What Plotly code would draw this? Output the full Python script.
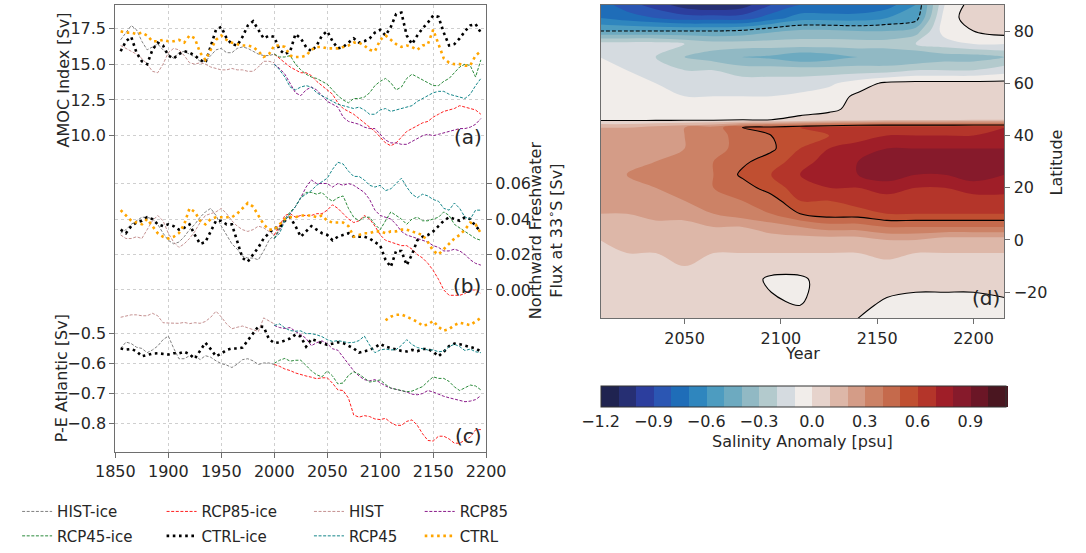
import plotly.graph_objects as go

W, H = 1086, 553

# ---------------- time axes ----------------
yrs_full = list(range(1855, 2200, 5))      # control runs
yrs_hist = list(range(1855, 2005, 5))      # historical runs
yrs_rcp = list(range(2000, 2200, 5))       # scenario runs
yrs_ctrl_pe = list(range(2105, 2200, 5))   # CTRL P-E record

# ---------------- (a) AMOC index [Sv] ----------------
amoc_hist_ice = [16.7, 17.2, 17.7, 17.4, 16.6, 16.0, 16.2, 16.4, 16.0, 15.7,
                 15.4, 15.8, 15.9, 15.7, 15.5, 15.2, 15.2, 15.6, 16.0, 16.1,
                 15.8, 15.8, 16.1, 16.2, 16.1, 15.9, 15.7, 15.6, 15.6, 15.7]
amoc_hist = [16.3, 16.1, 15.9, 15.7, 15.4, 15.0, 14.5, 14.4, 15.0, 15.8,
             16.1, 16.0, 15.6, 15.1, 15.0, 15.1, 15.0, 14.8, 14.7, 14.6,
             14.6, 14.7, 14.6, 14.6, 14.5, 14.5, 14.8, 15.2, 15.2, 15.1]
amoc_rcp85_ice = [15.7, 15.4, 15.1, 14.8, 14.6, 14.4, 14.4, 14.2, 13.8, 13.5,
                  13.2, 12.9, 12.3, 11.9, 11.7, 11.5, 11.2, 10.9, 10.6, 10.3,
                  9.9, 9.5, 9.3, 9.5, 9.9, 10.3, 10.5, 10.7, 10.9, 11.0,
                  11.3, 11.5, 11.7, 11.8, 11.9, 12.1, 12.0, 11.9, 11.8, 11.5]
amoc_rcp85 = [15.0, 14.7, 14.3, 13.7, 13.0, 12.8, 13.2, 13.4, 13.2, 12.8,
              12.4, 12.2, 12.0, 11.3, 11.0, 10.9, 10.8, 10.6, 10.5, 10.5,
              10.1, 9.7, 9.5, 9.5, 9.4, 9.4, 9.6, 9.8, 10.0, 10.1,
              10.0, 10.1, 10.2, 10.3, 10.4, 10.5, 10.5, 10.6, 10.8, 11.2]
amoc_rcp45_ice = [15.7, 15.5, 15.5, 15.6, 15.0, 14.6, 14.3, 14.1, 14.0, 13.8,
                  13.6, 13.2, 12.8, 12.5, 12.3, 12.6, 12.6, 12.7, 13.0, 13.5,
                  13.8, 14.0, 13.7, 13.2, 13.4, 14.0, 14.3, 14.1, 13.9, 13.7,
                  13.5, 13.5, 13.8, 14.0, 14.4, 14.8, 15.0, 14.9, 14.1, 15.3]
amoc_rcp45 = [15.0, 14.6, 14.1, 13.4, 13.2, 13.4, 13.5, 13.4, 13.0, 12.8,
              12.6, 12.4, 12.2, 12.1, 12.0, 11.9, 12.0, 11.8, 11.5, 11.5,
              11.8, 11.9, 11.7, 11.8, 11.9, 12.0, 12.1, 12.4, 12.6, 12.8,
              13.0, 13.1, 13.1, 12.9, 12.8, 12.7, 12.6, 12.9, 13.5, 14.0]
amoc_ctrl_ice = [15.9, 16.6, 16.9, 15.8, 15.2, 15.0, 16.0, 16.5, 16.3, 15.6,
                 15.4, 15.7, 15.9, 15.8, 15.6, 15.3, 15.1, 16.2, 17.4, 17.6,
                 16.8, 16.4, 16.3, 16.9, 17.7, 18.0, 17.4, 16.8, 17.0, 16.9,
                 16.0, 15.7, 15.9, 17.1, 16.8, 16.2, 15.9, 16.3, 17.0, 17.3,
                 16.6, 16.1, 16.2, 16.5, 16.8, 16.5, 16.6, 16.8, 17.2, 17.4,
                 17.0, 17.6, 18.5, 18.6, 17.0, 16.4, 17.0, 17.5, 17.9, 18.4,
                 18.3, 17.2, 16.3, 16.4, 16.8, 17.3, 17.7, 17.8, 17.2]
amoc_ctrl = [17.3, 17.2, 17.2, 17.1, 17.2, 17.0, 16.6, 16.6, 16.7, 16.6,
             16.6, 16.7, 16.5, 17.0, 16.8, 15.8, 15.3, 16.0, 16.7, 17.0,
             16.7, 16.5, 16.4, 16.3, 16.3, 16.2, 15.9, 15.5, 15.7, 16.3,
             16.3, 16.2, 15.6, 15.5, 15.5, 15.6, 16.0, 16.2, 16.2, 16.1,
             16.1, 16.1, 16.2, 16.3, 16.5, 16.5, 16.3, 16.0, 15.9, 16.7,
             17.0, 16.7, 16.4, 16.2, 16.3, 16.2, 16.0, 16.3, 16.4, 17.4,
             16.4, 15.4, 15.1, 15.0, 15.0, 14.9, 14.9, 15.6, 15.9]

# ---------------- (b) northward freshwater flux at 33S [Sv] ----------------
fw_hist_ice = [0.032, 0.034, 0.037, 0.039, 0.041, 0.041, 0.040, 0.037, 0.032, 0.028,
               0.026, 0.027, 0.030, 0.034, 0.037, 0.041, 0.044, 0.046, 0.042, 0.036,
               0.031, 0.026, 0.023, 0.019, 0.018, 0.018, 0.017, 0.022, 0.028, 0.031]
fw_hist = [0.031, 0.029, 0.029, 0.030, 0.029, 0.034, 0.039, 0.042, 0.039, 0.032,
           0.027, 0.024, 0.026, 0.029, 0.033, 0.038, 0.042, 0.043, 0.044, 0.046,
           0.043, 0.039, 0.036, 0.034, 0.033, 0.034, 0.036, 0.035, 0.033, 0.031]
fw_rcp85_ice = [0.031, 0.036, 0.042, 0.043, 0.041, 0.042, 0.042, 0.042, 0.043, 0.043,
                0.045, 0.048, 0.046, 0.043, 0.040, 0.038, 0.039, 0.042, 0.040, 0.036,
                0.031, 0.028, 0.027, 0.026, 0.025, 0.025, 0.023, 0.020, 0.018, 0.015,
                0.011, 0.006, 0.000, -0.003, -0.003, -0.003, -0.002, 0.000, 0.000, -0.002]
fw_rcp85 = [0.029, 0.034, 0.039, 0.043, 0.047, 0.052, 0.058, 0.062, 0.060, 0.060,
            0.060, 0.058, 0.060, 0.059, 0.060, 0.059, 0.057, 0.055, 0.051, 0.045,
            0.042, 0.041, 0.040, 0.037, 0.033, 0.031, 0.030, 0.029, 0.028, 0.027,
            0.025, 0.024, 0.022, 0.022, 0.023, 0.022, 0.020, 0.017, 0.015, 0.014]
fw_rcp45_ice = [0.029, 0.035, 0.040, 0.044, 0.047, 0.052, 0.055, 0.055, 0.054, 0.055,
                0.052, 0.050, 0.052, 0.053, 0.046, 0.041, 0.039, 0.041, 0.041, 0.037,
                0.034, 0.039, 0.044, 0.042, 0.040, 0.037, 0.040, 0.041, 0.039, 0.039,
                0.040, 0.041, 0.044, 0.042, 0.037, 0.035, 0.033, 0.031, 0.029, 0.028]
fw_rcp45 = [0.029, 0.032, 0.039, 0.043, 0.047, 0.052, 0.054, 0.056, 0.059, 0.061,
            0.063, 0.068, 0.072, 0.071, 0.067, 0.064, 0.064, 0.062, 0.059, 0.058,
            0.059, 0.056, 0.057, 0.060, 0.063, 0.058, 0.054, 0.052, 0.054, 0.053,
            0.051, 0.050, 0.046, 0.045, 0.049, 0.046, 0.041, 0.040, 0.045, 0.045]
fw_ctrl_ice = [0.034, 0.032, 0.036, 0.038, 0.039, 0.041, 0.040, 0.037, 0.036, 0.037,
               0.036, 0.034, 0.035, 0.037, 0.031, 0.026, 0.027, 0.033, 0.039, 0.039,
               0.037, 0.037, 0.028, 0.018, 0.016, 0.020, 0.024, 0.029, 0.032, 0.035,
               0.035, 0.039, 0.041, 0.036, 0.030, 0.033, 0.036, 0.034, 0.032, 0.031,
               0.028, 0.030, 0.031, 0.032, 0.030, 0.030, 0.030, 0.029, 0.027, 0.025,
               0.017, 0.013, 0.022, 0.022, 0.014, 0.020, 0.028, 0.030, 0.031, 0.033,
               0.036, 0.039, 0.041, 0.040, 0.039, 0.041, 0.040, 0.036, 0.033]
fw_ctrl = [0.045, 0.042, 0.039, 0.038, 0.037, 0.040, 0.036, 0.032, 0.030, 0.029,
           0.030, 0.032, 0.037, 0.046, 0.044, 0.039, 0.037, 0.040, 0.041, 0.041,
           0.041, 0.041, 0.043, 0.046, 0.049, 0.047, 0.042, 0.037, 0.034, 0.034,
           0.037, 0.040, 0.041, 0.041, 0.042, 0.042, 0.042, 0.041, 0.042, 0.039,
           0.038, 0.038, 0.038, 0.036, 0.030, 0.031, 0.032, 0.032, 0.033, 0.033,
           0.032, 0.033, 0.033, 0.034, 0.034, 0.033, 0.032, 0.031, 0.027, 0.022,
           0.020, 0.023, 0.026, 0.029, 0.031, 0.034, 0.038, 0.037, 0.032]

# ---------------- (c) P-E over the Atlantic [Sv] ----------------
pe_hist_ice = [-0.551, -0.530, -0.535, -0.547, -0.551, -0.565, -0.556, -0.543, -0.522, -0.510,
               -0.550, -0.585, -0.585, -0.575, -0.574, -0.588, -0.575, -0.580, -0.592, -0.601,
               -0.606, -0.614, -0.603, -0.588, -0.585, -0.592, -0.604, -0.599, -0.599, -0.604]
pe_hist = [-0.448, -0.444, -0.440, -0.440, -0.443, -0.443, -0.435, -0.443, -0.466, -0.467,
           -0.468, -0.468, -0.465, -0.469, -0.466, -0.468, -0.462, -0.448, -0.428, -0.447,
           -0.470, -0.486, -0.481, -0.477, -0.483, -0.490, -0.495, -0.450, -0.460, -0.470]
pe_rcp85_ice = [-0.604, -0.610, -0.619, -0.624, -0.632, -0.638, -0.642, -0.646, -0.651, -0.648,
                -0.648, -0.666, -0.688, -0.690, -0.715, -0.771, -0.778, -0.773, -0.776, -0.784,
                -0.786, -0.782, -0.796, -0.805, -0.805, -0.792, -0.787, -0.805, -0.833, -0.855,
                -0.857, -0.841, -0.841, -0.850, -0.864, -0.864, -0.855, -0.844, -0.820, -0.819]
pe_rcp85 = [-0.475, -0.482, -0.485, -0.482, -0.495, -0.505, -0.518, -0.542, -0.532, -0.526,
            -0.535, -0.552, -0.557, -0.580, -0.602, -0.625, -0.642, -0.654, -0.658, -0.654,
            -0.664, -0.675, -0.682, -0.686, -0.690, -0.695, -0.702, -0.704, -0.700, -0.690,
            -0.695, -0.703, -0.709, -0.714, -0.719, -0.723, -0.727, -0.725, -0.720, -0.707]
pe_rcp45_ice = [-0.600, -0.590, -0.584, -0.593, -0.590, -0.590, -0.607, -0.625, -0.638, -0.645,
                -0.625, -0.642, -0.668, -0.665, -0.640, -0.628, -0.636, -0.650, -0.662, -0.659,
                -0.655, -0.670, -0.682, -0.686, -0.690, -0.694, -0.692, -0.684, -0.677, -0.660,
                -0.645, -0.650, -0.650, -0.660, -0.678, -0.690, -0.682, -0.672, -0.675, -0.688]
pe_rcp45 = [-0.475, -0.470, -0.483, -0.492, -0.494, -0.493, -0.502, -0.502, -0.506, -0.512,
            -0.522, -0.528, -0.525, -0.528, -0.532, -0.531, -0.525, -0.510, -0.540, -0.565,
            -0.556, -0.553, -0.556, -0.555, -0.541, -0.522, -0.538, -0.548, -0.552, -0.556,
            -0.556, -0.562, -0.560, -0.545, -0.537, -0.545, -0.558, -0.553, -0.562, -0.565]
pe_ctrl_ice = [-0.551, -0.555, -0.553, -0.560, -0.577, -0.573, -0.568, -0.567, -0.569, -0.571,
               -0.567, -0.567, -0.562, -0.570, -0.585, -0.560, -0.532, -0.553, -0.577, -0.568,
               -0.556, -0.551, -0.551, -0.548, -0.524, -0.502, -0.478, -0.480, -0.520, -0.533,
               -0.531, -0.525, -0.518, -0.505, -0.512, -0.545, -0.520, -0.526, -0.534, -0.539,
               -0.536, -0.531, -0.533, -0.543, -0.551, -0.565, -0.560, -0.556, -0.548, -0.536,
               -0.545, -0.550, -0.554, -0.559, -0.561, -0.556, -0.560, -0.553, -0.553, -0.562,
               -0.577, -0.562, -0.543, -0.535, -0.537, -0.542, -0.546, -0.551, -0.561]
pe_ctrl = [-0.458, -0.446, -0.440, -0.439, -0.446, -0.454, -0.463, -0.476, -0.472, -0.460,
           -0.480, -0.492, -0.487, -0.474, -0.466, -0.470, -0.474, -0.462, -0.450]

# ---------------- (d) zonal-mean salinity anomaly [psu] ----------------
sal_years = [2006, 2020, 2035, 2050, 2065, 2080, 2095, 2110, 2125, 2140, 2155, 2170, 2185, 2200, 2216]
sal_lats = [-30, -25, -20, -15, -10, -5, 0, 5, 10, 15, 20, 25, 30, 35, 40, 43, 46,
            50, 55, 60, 65, 70, 75, 80, 85, 90]
sal_anom = [
    [0.05, 0.08, 0.08, 0.08, 0.08, 0.05, 0.03, 0.02, 0.03, 0.00, -0.04, -0.04, -0.04, -0.04, -0.04],
    [0.05, 0.08, 0.08, 0.08, 0.08, 0.05, 0.02, 0.00, 0.05, 0.04, -0.03, -0.03, -0.03, -0.03, -0.03],
    [0.05, 0.08, 0.08, 0.08, 0.08, 0.05, 0.00, -0.02, 0.05, 0.05, 0.02, 0.00, 0.00, 0.00, 0.02],
    [0.02, 0.08, 0.08, 0.05, 0.08, 0.05, -0.02, -0.02, 0.05, 0.05, 0.05, 0.05, 0.05, 0.03, 0.05],
    [0.05, 0.08, 0.08, 0.10, 0.08, 0.05, 0.05, 0.05, 0.08, 0.08, 0.08, 0.08, 0.05, 0.05, 0.08],
    [0.08, 0.10, 0.10, 0.10, 0.10, 0.10, 0.10, 0.10, 0.10, 0.10, 0.12, 0.10, 0.10, 0.10, 0.10],
    [0.10, 0.10, 0.10, 0.10, 0.10, 0.10, 0.15, 0.15, 0.15, 0.15, 0.20, 0.20, 0.15, 0.15, 0.15],
    [0.15, 0.15, 0.15, 0.15, 0.20, 0.20, 0.25, 0.30, 0.35, 0.35, 0.40, 0.40, 0.40, 0.40, 0.40],
    [0.20, 0.20, 0.25, 0.25, 0.30, 0.35, 0.40, 0.50, 0.55, 0.55, 0.60, 0.60, 0.60, 0.60, 0.60],
    [0.25, 0.25, 0.30, 0.30, 0.35, 0.40, 0.45, 0.60, 0.60, 0.65, 0.65, 0.65, 0.65, 0.65, 0.65],
    [0.30, 0.30, 0.30, 0.35, 0.40, 0.45, 0.55, 0.65, 0.70, 0.70, 0.75, 0.70, 0.70, 0.75, 0.75],
    [0.30, 0.30, 0.35, 0.35, 0.40, 0.52, 0.60, 0.70, 0.75, 0.80, 0.85, 0.80, 0.80, 0.85, 0.80],
    [0.25, 0.30, 0.30, 0.35, 0.40, 0.48, 0.55, 0.65, 0.75, 0.80, 0.85, 0.85, 0.85, 0.85, 0.85],
    [0.25, 0.25, 0.30, 0.30, 0.35, 0.45, 0.48, 0.60, 0.70, 0.75, 0.80, 0.80, 0.80, 0.80, 0.80],
    [0.20, 0.20, 0.25, 0.30, 0.35, 0.45, 0.50, 0.55, 0.60, 0.65, 0.70, 0.70, 0.70, 0.70, 0.75],
    [0.20, 0.20, 0.25, 0.30, 0.35, 0.50, 0.55, 0.60, 0.65, 0.70, 0.70, 0.70, 0.70, 0.70, 0.70],
    [-0.02, -0.02, -0.02, -0.02, -0.02, 0.00, 0.00, 0.02, 0.05, 0.05, 0.08, 0.08, 0.08, 0.10, 0.10],
    [-0.03, -0.03, -0.05, -0.05, -0.05, -0.05, -0.05, -0.03, -0.02, 0.03, 0.05, 0.05, 0.06, 0.06, 0.05],
    [-0.03, -0.05, -0.05, -0.10, -0.10, -0.10, -0.10, -0.08, -0.05, 0.02, 0.05, 0.05, 0.05, 0.05, 0.05],
    [-0.05, -0.05, -0.10, -0.15, -0.15, -0.15, -0.15, -0.15, -0.12, -0.05, 0.02, 0.03, 0.03, 0.03, 0.03],
    [-0.05, -0.10, -0.15, -0.20, -0.20, -0.25, -0.25, -0.25, -0.25, -0.25, -0.25, -0.20, -0.20, -0.20, -0.15],
    [-0.10, -0.15, -0.20, -0.30, -0.35, -0.40, -0.42, -0.48, -0.45, -0.40, -0.40, -0.40, -0.35, -0.35, -0.30],
    [-0.15, -0.15, -0.15, -0.20, -0.25, -0.25, -0.25, -0.25, -0.25, -0.25, -0.25, -0.20, -0.15, -0.10, -0.10],
    [-0.50, -0.50, -0.50, -0.50, -0.50, -0.48, -0.42, -0.38, -0.38, -0.40, -0.40, -0.35, -0.05, 0.00, 0.05],
    [-0.70, -0.75, -0.80, -0.85, -0.85, -0.85, -0.75, -0.65, -0.65, -0.65, -0.60, -0.55, -0.05, 0.05, 0.05],
    [-0.75, -0.85, -0.95, -1.05, -1.10, -1.05, -0.90, -0.80, -0.80, -0.80, -0.75, -0.60, -0.10, 0.05, 0.05],
]

# discrete diverging palette, one colour per 0.1 psu band from -1.2 to 1.1
band_colors = ["#1f2350", "#262f73", "#2c3e9e", "#2b56b3", "#1f6db8", "#2f86be",
               "#4d9cc0", "#6daac0", "#91b9c4", "#b3cacd", "#d5dbe0", "#f1edea",
               "#e6d3cc", "#ddb7a8", "#d49c87", "#cc8266", "#c56a4c", "#c04f31",
               "#b4352a", "#9f1e28", "#861a2b", "#6b1626", "#4a1620"]
cb_ticks = [-1.2, -0.9, -0.6, -0.3, 0.0, 0.3, 0.6, 0.9]

FONT = "DejaVu Sans"
TXT = "#262626"
SPINE = "#6e6e6e"
GRID = "#cfcfcf"


def px(x):
    return x / W


def py(y):
    return 1 - y / H


# series: name, colour, dash, width, legend slot
series = [
    ("HIST-ice", "#808080", "3px,1.6px", 1.0, "legend"),
    ("RCP85-ice", "#ff2020", "3px,1.6px", 1.0, "legend2"),
    ("HIST", "#c49090", "3px,1.6px", 1.0, "legend3"),
    ("RCP85", "#8a1a8a", "3px,1.6px", 1.0, "legend4"),
    ("RCP45-ice", "#2a8a3a", "3px,1.6px", 1.0, "legend5"),
    ("CTRL-ice", "#000000", "2.6px,3.6px", 2.6, "legend6"),
    ("RCP45", "#14868a", "3px,1.6px", 1.0, "legend7"),
    ("CTRL", "#ffa500", "2.6px,3.6px", 2.6, "legend8"),
]

panel_data = {
    "y": {"HIST-ice": (yrs_hist, amoc_hist_ice), "RCP85-ice": (yrs_rcp, amoc_rcp85_ice),
          "HIST": (yrs_hist, amoc_hist), "RCP85": (yrs_rcp, amoc_rcp85),
          "RCP45-ice": (yrs_rcp, amoc_rcp45_ice), "CTRL-ice": (yrs_full, amoc_ctrl_ice),
          "RCP45": (yrs_rcp, amoc_rcp45), "CTRL": (yrs_full, amoc_ctrl)},
    "y2": {"HIST-ice": (yrs_hist, fw_hist_ice), "RCP85-ice": (yrs_rcp, fw_rcp85_ice),
           "HIST": (yrs_hist, fw_hist), "RCP85": (yrs_rcp, fw_rcp85),
           "RCP45-ice": (yrs_rcp, fw_rcp45_ice), "CTRL-ice": (yrs_full, fw_ctrl_ice),
           "RCP45": (yrs_rcp, fw_rcp45), "CTRL": (yrs_full, fw_ctrl)},
    "y3": {"HIST-ice": (yrs_hist, pe_hist_ice), "RCP85-ice": (yrs_rcp, pe_rcp85_ice),
           "HIST": (yrs_hist, pe_hist), "RCP85": (yrs_rcp, pe_rcp85),
           "RCP45-ice": (yrs_rcp, pe_rcp45_ice), "CTRL-ice": (yrs_full, pe_ctrl_ice),
           "RCP45": (yrs_rcp, pe_rcp45), "CTRL": (yrs_ctrl_pe, pe_ctrl)},
}

fig = go.Figure()

for yax, d in panel_data.items():
    for name, color, dash, width, leg in series:
        xs, ys = d[name]
        fig.add_trace(go.Scatter(
            x=xs, y=ys, mode="lines", name=name, legend=leg,
            legendgroup=name, showlegend=(yax == "y"),
            line=dict(color=color, dash=dash, width=width),
            xaxis="x", yaxis=yax, hoverinfo="skip"))

# step colour scale: one flat colour per 0.1 band
n_band = len(band_colors)
cscale = []
for i, c in enumerate(band_colors):
    cscale.append([i / n_band, c])
    cscale.append([(i + 1) / n_band, c])

fig.add_trace(go.Contour(
    x=sal_years, y=sal_lats, z=sal_anom, xaxis="x2", yaxis="y4",
    colorscale=cscale, zmin=-1.2, zmax=1.1000001,
    contours=dict(start=-1.2, end=1.1, size=0.1, coloring="fill", showlines=False),
    line=dict(width=0), hoverinfo="skip", showlegend=False,
    colorbar=dict(
        orientation="h", x=px(813), xanchor="center", y=py(395), yanchor="top",
        len=420 / W, lenmode="fraction", thickness=21, thicknessmode="pixels",
        xpad=0, ypad=0, outlinecolor="#333333", outlinewidth=1,
        tickvals=cb_ticks, ticktext=[f"{v:.1f}".replace("-", "\u2212") for v in cb_ticks],
        ticks="", ticklen=0, tickfont=dict(family=FONT, size=16, color=TXT),
    ),
))
# negative contour (dashed)
fig.add_trace(go.Contour(
    x=sal_years, y=sal_lats, z=sal_anom, xaxis="x2", yaxis="y4",
    contours=dict(start=-0.5, end=-0.5, size=1, coloring="none"),
    line=dict(color="black", width=1.1, dash="4px,2px"),
    showscale=False, showlegend=False, hoverinfo="skip"))
# zero and positive contours (solid)
fig.add_trace(go.Contour(
    x=sal_years, y=sal_lats, z=sal_anom, xaxis="x2", yaxis="y4",
    contours=dict(start=0.0, end=0.5, size=0.5, coloring="none"),
    line=dict(color="black", width=1.1),
    showscale=False, showlegend=False, hoverinfo="skip"))

tickfont = dict(family=FONT, size=16, color=TXT)
common = dict(ticks="outside", ticklen=5, tickcolor=SPINE, tickfont=tickfont,
              zeroline=False, showgrid=True, gridcolor=GRID, griddash="dot", gridwidth=1)

left_dom_x = [px(99), px(484)]
left_dom_y = [py(463), py(5)]

layout = dict(
    width=W, height=H, margin=dict(l=0, r=0, t=0, b=0),
    paper_bgcolor="white", plot_bgcolor="white",
    font=dict(family=FONT, size=16, color=TXT),
    xaxis=dict(domain=left_dom_x, range=[1850, 2200], anchor="y",
               tickvals=list(range(1850, 2201, 50)),
               showline=True, linecolor=SPINE, linewidth=1.2, mirror=True, **common),
    yaxis=dict(domain=left_dom_y, range=[-12.1, 19.14], anchor="x",
               tickvals=[10.0, 12.5, 15.0, 17.5], ticktext=["10.0", "12.5", "15.0", "17.5"],
               showline=True, linecolor=SPINE, linewidth=1.2, mirror=True, **common),
    yaxis2=dict(overlaying="y", side="right", anchor="x", range=[-0.0914, 0.1607],
                tickvals=[0.0, 0.02, 0.04, 0.06], ticktext=["0.00", "0.02", "0.04", "0.06"],
                showline=False, **common),
    yaxis3=dict(overlaying="y", side="left", anchor="x", range=[-0.8935, 0.584],
                tickvals=[-0.8, -0.7, -0.6, -0.5],
                ticktext=["\u22120.8", "\u22120.7", "\u22120.6", "\u22120.5"],
                showline=False, **common),
    xaxis2=dict(domain=[px(603), px(1022)], range=[2006.5, 2216], anchor="y4",
                tickvals=[2050, 2100, 2150, 2200], showgrid=False, zeroline=False,
                ticks="outside", ticklen=5, tickcolor=SPINE, tickfont=tickfont,
                showline=True, linecolor=SPINE, linewidth=1.2, mirror=True),
    yaxis4=dict(domain=[py(326), py(5)], range=[-30, 90], anchor="x2", side="right",
                tickvals=[-20, 0, 20, 40, 60, 80],
                ticktext=["\u221220", "0", "20", "40", "60", "80"],
                showgrid=False, zeroline=False,
                ticks="outside", ticklen=5, tickcolor=SPINE, tickfont=tickfont,
                showline=True, linecolor=SPINE, linewidth=1.2, mirror=True),
)

# one small legend per column/row slot (text start x, row centre y)
leg_slots = {
    "legend": (55, 516), "legend2": (205, 516), "legend3": (358, 516), "legend4": (473, 516),
    "legend5": (55, 541), "legend6": (205, 541), "legend7": (358, 541), "legend8": (473, 541),
}
for key, (tx, ty) in leg_slots.items():
    layout[key] = dict(x=px(tx - 58), y=py(ty + 8), xanchor="left", yanchor="middle",
                       bgcolor="rgba(0,0,0,0)", borderwidth=0,
                       font=dict(family=FONT, size=15, color=TXT))

fig.update_layout(**layout)

ann = [
    dict(x=px(45), y=py(82), text="AMOC Index [Sv]", textangle=-90),
    dict(x=px(43), y=py(387), text="P-E Atlantic [Sv]", textangle=-90),
    dict(x=px(547), y=py(236), text="Northward Freshwater<br>Flux at 33<sup>\u2218</sup>S [Sv]",
         textangle=-90),
    dict(x=px(1076), y=py(166), text="Latitude", textangle=-90),
    dict(x=px(812), y=py(362), text="Year"),
    dict(x=px(812), y=py(452), text="Salinity Anomaly [psu]"),
    dict(x=px(482), y=py(140), text="(a)", xanchor="right", font=dict(size=20)),
    dict(x=px(481), y=py(293), text="(b)", xanchor="right", font=dict(size=20)),
    dict(x=px(482), y=py(447), text="(c)", xanchor="right", font=dict(size=20)),
    dict(x=px(1020), y=py(305), text="(d)", xanchor="right", font=dict(size=20)),
]
for a in ann:
    base = dict(xref="paper", yref="paper", showarrow=False, xanchor="center", yanchor="middle",
                font=dict(family=FONT, size=16, color=TXT))
    f = a.pop("font", None)
    base.update(a)
    if f:
        base["font"] = dict(family=FONT, color=TXT, **f)
    fig.add_annotation(**base)

fig.write_html("out.html")
